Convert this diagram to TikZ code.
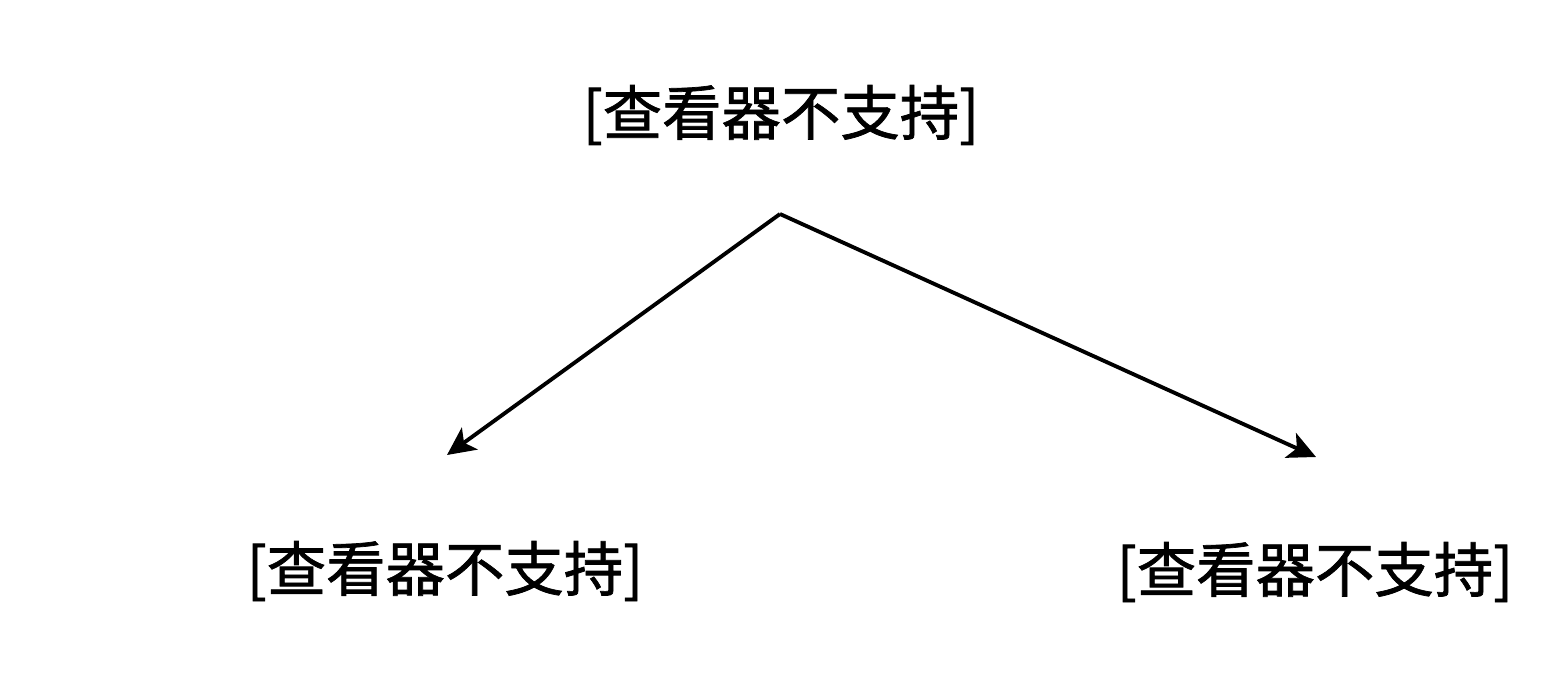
\documentclass[tikz,border=0pt]{standalone}
\usepackage{fontspec}
\newfontfamily\cjk[FakeBold=1.2]{Noto Sans CJK SC}
\usetikzlibrary{arrows.meta}

\tikzset{
  label/.style={font=\cjk\fontsize{16.9}{20}\selectfont, inner sep=0pt, anchor=center},
  link/.style={line width=1.1pt, -{Stealth[length=0.28cm, width=0.27cm, inset=0.07cm]}}
}

\begin{document}
\begin{tikzpicture}[scale=1]
	\useasboundingbox (0,0) rectangle (15.56,6.72);

	\node[label] (top) at (7.81,5.57) {[查看器不支持]};
	\node[label] (left) at (4.45,1.01) {[查看器不支持]};
	\node[label] (right) at (13.15,1.00) {[查看器不支持]};

	\coordinate (fork) at (7.80,4.58);
	\coordinate (lefttip) at (4.47,2.17);
	\coordinate (righttip) at (13.16,2.15);

	\draw[link] (fork) -- (lefttip);
	\draw[link] (fork) -- (righttip);

\end{tikzpicture}
\end{document}
